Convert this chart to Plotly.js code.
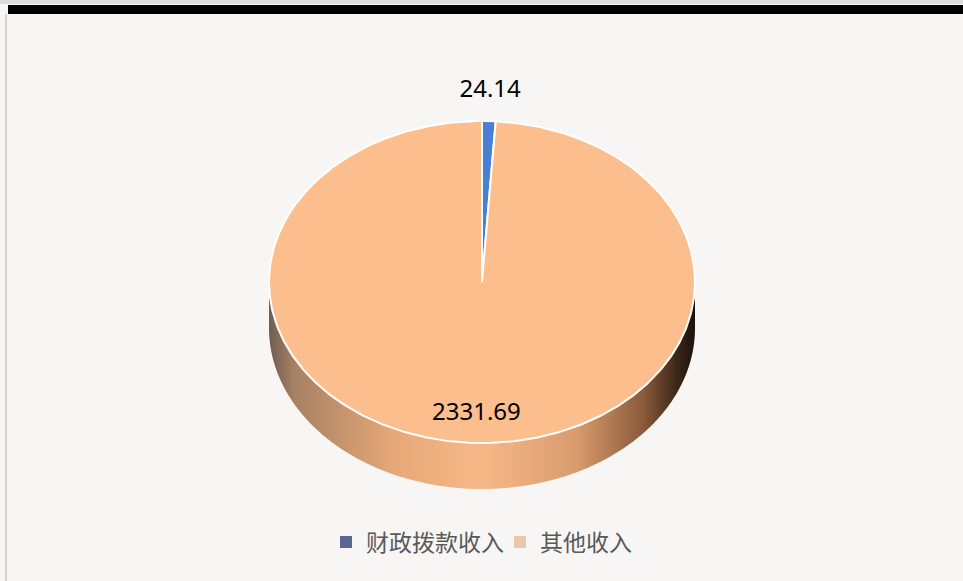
<!DOCTYPE html>
<html>
<head>
<meta charset="utf-8">
<script src="https://cdn.plot.ly/plotly-3.0.1.min.js"></script>
<style>
  html, body { margin: 0; padding: 0; background: #f7f6f4; }
  #chart { width: 963px; height: 581px; }
</style>
</head>
<body>
<div id="chart"></div>
<script>
// 数据
const categories = ['财政拨款收入', '其他收入'];
const values = [24.14, 2331.69];
const sliceColors = ['#4a7fd8', '#fdbe8e'];
const legendColors = ['#5b6790', '#ebc7ab'];

// 饼图位置（像素坐标）
const cx = 482, cy = 282;
const rx = 213, ry = 161;
const depth = 46;

// theta 从12点方向顺时针
function pt(theta, dy) {
    return [cx + rx * Math.sin(theta), cy - ry * Math.cos(theta) + (dy || 0)];
}

function arc(t0, t1, dy) {
    const n = Math.max(2, Math.ceil(Math.abs(t1 - t0) / 0.01));
    const xs = [], ys = [];
    for (let i = 0; i <= n; i++) {
        const p = pt(t0 + (t1 - t0) * i / n, dy);
        xs.push(p[0]);
        ys.push(p[1]);
    }
    return [xs, ys];
}

const total = values.reduce((a, b) => a + b, 0);
const traces = [];

// 侧面（厚度）
const edgeTop = arc(Math.PI / 2, 3 * Math.PI / 2, 0);
const edgeBottom = arc(3 * Math.PI / 2, Math.PI / 2, depth);
traces.push({
    type: 'scatter',
    x: edgeTop[0].concat(edgeBottom[0]),
    y: edgeTop[1].concat(edgeBottom[1]),
    mode: 'none',
    fill: 'toself',
    fillgradient: {
        type: 'horizontal',
        colorscale: [
            [0, '#6f5d52'], [0.06, '#a88163'], [0.3, '#e8a978'],
            [0.5, '#f6b887'], [0.72, '#d99c6e'], [0.88, '#8a5a3a'],
            [0.96, '#3a2518'], [1, '#1c120c']
        ]
    },
    hoverinfo: 'skip',
    showlegend: false
});

// 扇区
let start = 0;
const mids = [];
values.forEach((v, i) => {
    const sweep = v / total * 2 * Math.PI;
    const a = arc(start, start + sweep, 0);
    traces.push({
        type: 'scatter',
        x: [cx].concat(a[0], [cx]),
        y: [cy].concat(a[1], [cy]),
        mode: 'lines',
        fill: 'toself',
        fillcolor: sliceColors[i],
        line: { color: '#ffffff', width: 2 },
        hoverinfo: 'skip',
        showlegend: false
    });
    mids.push(start + sweep / 2);
    start += sweep;
});

// 数据标签
const labelX = [], labelY = [];
mids.forEach((m, i) => {
    const f = values[i] / total < 0.05 ? 1.19 : 0.82;
    labelX.push(cx + rx * f * Math.sin(m));
    labelY.push(cy - ry * f * Math.cos(m));
});
traces.push({
    type: 'scatter',
    x: labelX,
    y: labelY,
    mode: 'text',
    text: values.map(v => v.toFixed(2)),
    textfont: { family: 'Noto Sans, sans-serif', size: 24, color: '#000000' },
    hoverinfo: 'skip',
    showlegend: false
});

// 图例
categories.forEach((c, i) => {
    traces.push({
        type: 'scatter',
        x: [null],
        y: [null],
        mode: 'markers',
        name: c,
        marker: { symbol: 'square', size: 12, color: legendColors[i] },
        showlegend: true
    });
});

const layout = {
    width: 963,
    height: 581,
    margin: { l: 0, r: 0, t: 0, b: 0 },
    paper_bgcolor: '#f7f6f4',
    plot_bgcolor: 'rgba(0,0,0,0)',
    xaxis: { range: [0, 963], visible: false, fixedrange: true },
    yaxis: { range: [581, 0], visible: false, fixedrange: true },
    showlegend: true,
    legend: {
        orientation: 'h',
        x: 326 / 963,
        xanchor: 'left',
        y: 1 - 542 / 581,
        yanchor: 'middle',
        entrywidth: 129,
        bgcolor: 'rgba(0,0,0,0)',
        font: { family: 'Noto Sans CJK SC, sans-serif', size: 23, color: '#595959' }
    },
    shapes: [
        { type: 'rect', xref: 'paper', yref: 'paper', x0: 0, x1: 1, y0: 1, y1: 1 - 4 / 581, fillcolor: '#dcdcdc', line: { width: 0 } },
        { type: 'rect', xref: 'paper', yref: 'paper', x0: 8 / 963, x1: 1, y0: 1 - 5 / 581, y1: 1 - 14 / 581, fillcolor: '#000000', line: { width: 0 } },
        { type: 'rect', xref: 'paper', yref: 'paper', x0: 5 / 963, x1: 7 / 963, y0: 0, y1: 1 - 14 / 581, fillcolor: '#d4d4d4', line: { width: 0 } }
    ]
};

Plotly.newPlot('chart', traces, layout, { displayModeBar: false, staticPlot: true });
</script>
</body>
</html>
